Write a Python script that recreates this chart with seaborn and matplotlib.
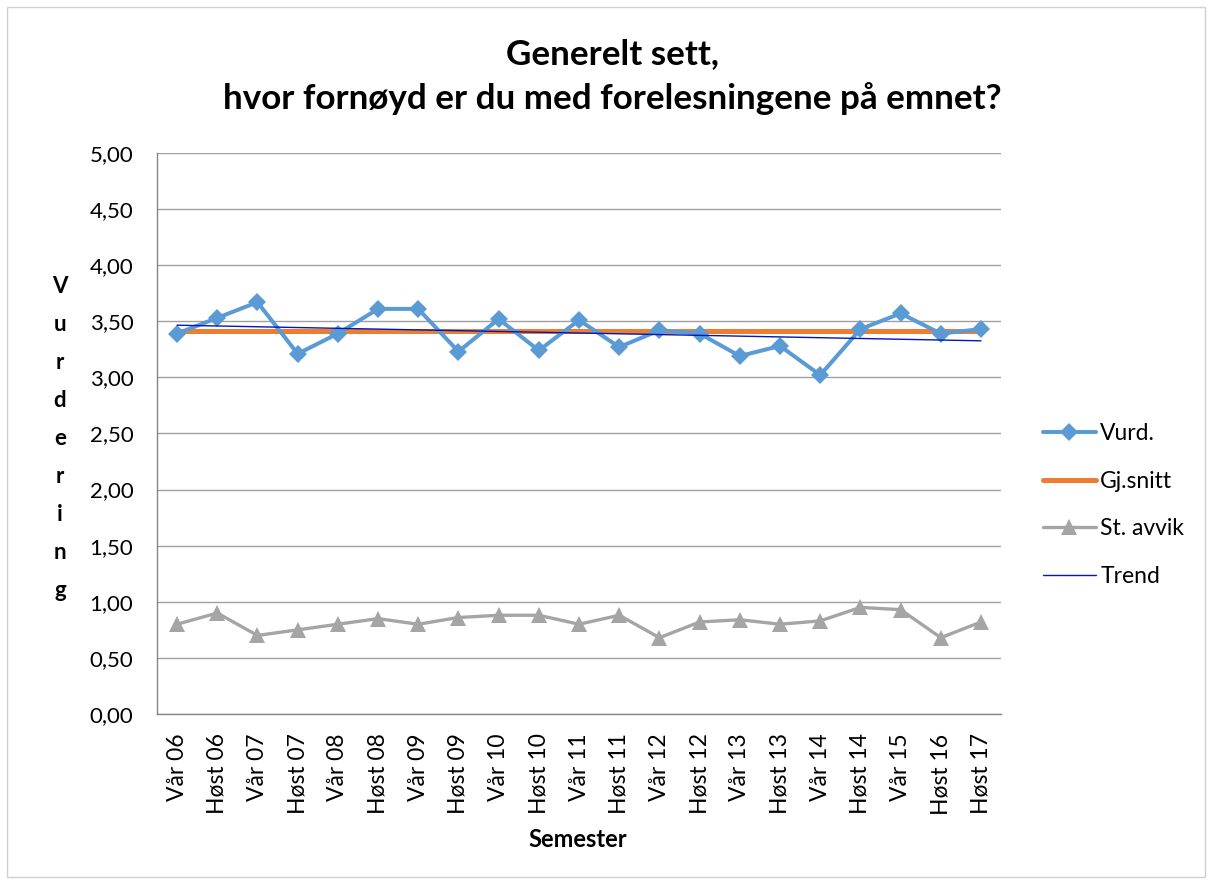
import numpy as np
import pandas as pd
import matplotlib
matplotlib.use("Agg")
import matplotlib.pyplot as plt
import seaborn as sns
from matplotlib.lines import Line2D
from matplotlib.patches import Rectangle

semestre = ["Vår 06", "Høst 06", "Vår 07", "Høst 07", "Vår 08", "Høst 08", "Vår 09",
            "Høst 09", "Vår 10", "Høst 10", "Vår 11", "Høst 11", "Vår 12", "Høst 12",
            "Vår 13", "Høst 13", "Vår 14", "Høst 14", "Vår 15", "Høst 16", "Høst 17"]
vurd = [3.39, 3.53, 3.67, 3.21, 3.39, 3.61, 3.61, 3.23, 3.52, 3.24, 3.51, 3.27,
        3.42, 3.39, 3.19, 3.28, 3.02, 3.43, 3.57, 3.39, 3.43]
gj_snitt = [3.41] * 21
st_avvik = [0.80, 0.90, 0.70, 0.75, 0.80, 0.85, 0.80, 0.86, 0.88, 0.88, 0.80, 0.88,
            0.68, 0.82, 0.84, 0.80, 0.83, 0.95, 0.93, 0.68, 0.82]
y_ticks = [0.0, 0.5, 1.0, 1.5, 2.0, 2.5, 3.0, 3.5, 4.0, 4.5, 5.0]

sns.set_theme(style="white")
plt.rcParams['font.family'] = ['Lato', 'DejaVu Sans']
plt.rcParams['text.color'] = 'black'

c_vurd = "#5B9BD5"
c_snitt = "#ED7D31"
c_avvik = "#A5A5A5"
c_trend = "#0018B8"

idx = np.arange(len(semestre))
df = pd.DataFrame({"pos": idx, "Vurd.": vurd, "Gj.snitt": gj_snitt, "St. avvik": st_avvik})

fig = plt.figure(figsize=(12.12, 8.84), dpi=100)
ax = fig.add_axes([0.1295, 0.1923, 0.6965, 0.6347])

sns.lineplot(data=df, x="pos", y="St. avvik", ax=ax, color=c_avvik, lw=2.4,
             marker="^", markersize=11, markeredgewidth=0, sort=False)
sns.lineplot(data=df, x="pos", y="Gj.snitt", ax=ax, color=c_snitt, lw=3.6, sort=False)
sns.lineplot(data=df, x="pos", y="Vurd.", ax=ax, color=c_vurd, lw=2.9,
             marker="D", markersize=9, markeredgewidth=0, sort=False)
sns.regplot(x=idx, y=np.array(vurd), ax=ax, scatter=False, ci=None, truncate=True,
            line_kws=dict(color=c_trend, lw=1.0))

ax.set_xlim(-0.5, len(semestre) - 0.5)
ax.set_ylim(0, 5)
ax.set_yticks(y_ticks)
ax.set_yticklabels([f"{v:.2f}".replace(".", ",") for v in y_ticks], fontsize=16)
ax.set_xticks(idx)
ax.set_xticklabels(semestre, rotation=90, fontsize=16.5)
ax.set_xticks(np.arange(-0.5, len(semestre)), minor=True)
ax.tick_params(axis="x", which="major", length=0, pad=14)
ax.tick_params(axis="x", which="minor", length=6, color="#868686", width=1, direction="out")
ax.tick_params(axis="y", length=6, color="#868686", width=1, direction="out", pad=11)
ax.tick_params(axis="both", labelcolor="black")
ax.grid(axis="y", color="#A0A0A0", lw=1)
ax.set_axisbelow(True)
for s in ["top", "right"]:
    ax.spines[s].set_visible(False)
for s in ["left", "bottom"]:
    ax.spines[s].set_color("#868686")
    ax.spines[s].set_linewidth(1)
ax.set_xlabel("")
ax.set_ylabel("")

fig.text(0.505, 0.957, "Generelt sett,\nhvor fornøyd er du med forelesningene på emnet?",
         ha="center", va="top", fontsize=25.2, fontweight="bold", linespacing=1.45,
         color="black")
fig.text(0.477, 0.05, "Semester", ha="center", va="center", fontsize=17, fontweight="bold",
         color="black")
fig.text(0.0495, 0.5045, "\n".join("Vurdering"), ha="center", va="center", fontsize=16,
         fontweight="bold", linespacing=2.0, color="black")

handles = [
    Line2D([], [], color=c_vurd, lw=2.9, marker="D", markersize=9, markeredgewidth=0),
    Line2D([], [], color=c_snitt, lw=3.6),
    Line2D([], [], color=c_avvik, lw=2.4, marker="^", markersize=11, markeredgewidth=0),
    Line2D([], [], color=c_trend, lw=1.0),
]
leg = fig.legend(handles, ["Vurd.", "Gj.snitt", "St. avvik", "Trend"], loc="center left",
                 bbox_to_anchor=(0.8606, 0.4287), frameon=False, fontsize=16.5,
                 handlelength=2.3, handletextpad=0.2, labelspacing=1.16, borderpad=0,
                 borderaxespad=0, labelcolor="black")

fig.add_artist(Rectangle((0.006, 0.008), 0.988, 0.984, transform=fig.transFigure,
                         fill=False, edgecolor="#D0D0D0", lw=1))

fig.savefig("out.png", dpi=100)
